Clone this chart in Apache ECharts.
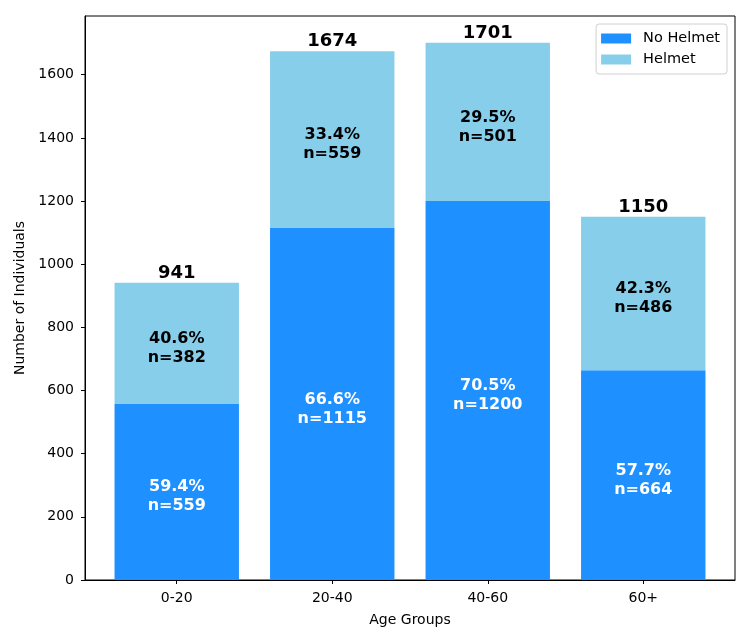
<!DOCTYPE html>
<html>
<head>
<meta charset="utf-8">
<script src="https://cdn.jsdelivr.net/npm/echarts@6/dist/echarts.min.js"></script>
<style>
  html, body { margin: 0; padding: 0; background: #fff; }
  #chart { width: 750px; height: 643px; }
</style>
</head>
<body>
<div id="chart"></div>
<script>
const ageGroups = ['0-20', '20-40', '40-60', '60+']
const noHelmet = [559, 1115, 1200, 664]
const helmet = [382, 559, 501, 486]
const noHelmetPct = [59.4, 66.6, 70.5, 57.7]
const helmetPct = [40.6, 33.4, 29.5, 42.3]
const totals = noHelmet.map((v, i) => v + helmet[i])

const font = 'DejaVu Sans'
const BAR_W = 0.8
const chart = echarts.init(document.getElementById('chart'))

// stacked segment: [x, bottom, top]
function renderSegment(params, api) {
  const x = api.value(0)
  const p0 = api.coord([x - BAR_W / 2, api.value(1)])
  const p1 = api.coord([x + BAR_W / 2, api.value(2)])
  return {
    type: 'rect',
    shape: { x: p0[0], y: p1[1], width: p1[0] - p0[0], height: p0[1] - p1[1] },
    style: api.style(),
  }
}

const segLabel = (name, color, pcts, counts, bottoms, tops) => ({
  name: name + ' label',
  type: 'scatter',
  symbolSize: 0,
  silent: true,
  z: 5,
  itemStyle: { opacity: 1 },
  label: {
    show: true,
    position: 'inside',
    offset: [0, 5],
    fontFamily: font,
    fontSize: 16,
    fontWeight: 'bold',
    lineHeight: 19,
    opacity: 1,
    color,
    formatter: (p) => `${pcts[p.dataIndex].toFixed(1)}%\nn=${counts[p.dataIndex]}`,
  },
  data: tops.map((t, i) => [i, (bottoms[i] + t) / 2]),
})

chart.setOption({
  animation: false,
  backgroundColor: '#fff',
  grid: {
    left: 85, right: 15, top: 16, bottom: 63,
    show: true, borderColor: '#000', borderWidth: 1,
  },
  legend: {
    orient: 'vertical',
    right: 23, top: 24,
    data: [
      { name: 'No Helmet', icon: 'rect', itemStyle: { color: '#1E90FF' } },
      { name: 'Helmet', icon: 'rect', itemStyle: { color: '#87CEEB' } },
    ],
    itemWidth: 30, itemHeight: 10, itemGap: 6,
    padding: [7, 7, 7, 5],
    borderColor: '#d0d0d0', borderWidth: 1, borderRadius: 3,
    textStyle: { fontFamily: font, fontSize: 14.5, color: '#000', padding: [0, 0, 0, 7] },
  },
  xAxis: {
    type: 'value',
    min: -0.59, max: 3.59,
    name: 'Age Groups',
    nameLocation: 'middle',
    nameGap: 33,
    nameTextStyle: { fontFamily: font, fontSize: 14, color: '#000' },
    splitLine: { show: false },
    axisLine: { show: true, onZero: false, lineStyle: { color: '#000' } },
    axisTick: { show: true, length: 4, lineStyle: { color: '#000' }, customValues: [0, 1, 2, 3] },
    axisLabel: {
      fontFamily: font, fontSize: 14, color: '#000', margin: 11,
      customValues: [0, 1, 2, 3],
      formatter: (v) => ageGroups[Math.round(v)],
    },
  },
  yAxis: {
    type: 'value',
    min: 0, max: 1786, interval: 200,
    name: 'Number of Individuals',
    nameLocation: 'middle',
    nameGap: 53,
    nameTextStyle: { fontFamily: font, fontSize: 14, color: '#000' },
    splitLine: { show: false },
    axisLine: { show: true, onZero: false, lineStyle: { color: '#000' } },
    axisTick: { show: true, length: 4, lineStyle: { color: '#000' } },
    axisLabel: {
      fontFamily: font, fontSize: 14, color: '#000', margin: 11,
      showMaxLabel: false,
      formatter: (v) => String(v),
    },
  },
  series: [
    {
      name: 'No Helmet',
      type: 'custom',
      renderItem: renderSegment,
      itemStyle: { color: '#1E90FF' },
      encode: { x: 0, y: [1, 2] },
      data: noHelmet.map((v, i) => [i, 0, v]),
    },
    {
      name: 'Helmet',
      type: 'custom',
      renderItem: renderSegment,
      itemStyle: { color: '#87CEEB' },
      encode: { x: 0, y: [1, 2] },
      data: helmet.map((v, i) => [i, noHelmet[i], totals[i]]),
    },
    segLabel('No Helmet', '#fff', noHelmetPct, noHelmet, noHelmet.map(() => 0), noHelmet),
    segLabel('Helmet', '#000', helmetPct, helmet, noHelmet, totals),
    {
      name: 'Total',
      type: 'scatter',
      symbolSize: 0,
      silent: true,
      itemStyle: { opacity: 1 },
      label: {
        show: true,
        position: 'top',
        distance: 1,
        opacity: 1,
        fontFamily: font,
        fontSize: 18,
        fontWeight: 'bold',
        color: '#000',
        formatter: (p) => String(p.value[1]),
      },
      data: totals.map((v, i) => [i, v]),
    },
  ],
})
</script>
</body>
</html>
